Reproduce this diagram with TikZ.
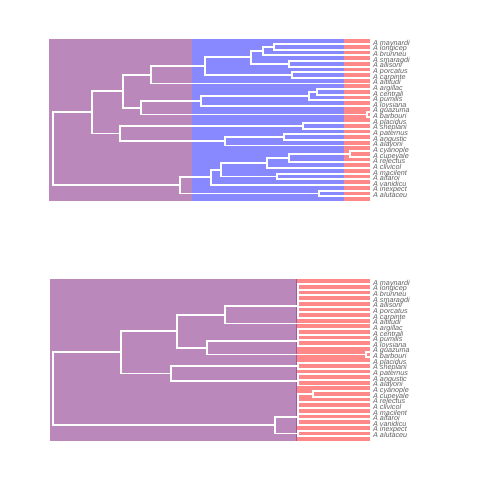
\documentclass[tikz,border=0pt]{standalone}
\usepackage{fontspec}
\setmainfont{Liberation Sans}
\usetikzlibrary{calc}
\definecolor{eraold}{RGB}{187,136,187}
\definecolor{eramid}{RGB}{136,136,255}
\definecolor{erayoung}{RGB}{255,136,136}
\definecolor{eraedge}{RGB}{158,92,158}
\definecolor{labgray}{RGB}{96,96,96}
\tikzset{
  branch/.style={draw=white, line width=1.9pt},
  tiplab/.style={anchor=base west, inner sep=0pt, text=labgray, font=\fontsize{7.2}{8}\selectfont\itshape},
}
% tips and labels of one panel: prefix, vertical offset
\newcommand{\tiprow}[2]{
  \foreach \nm [count=\i] in {maynardi,longicep,brunneu,smaragdi,allisoni,porcatus,carpinte,altitudi,argillac,centrali,pumilis,loysiana,guazuma,barbouri,placidus,sheplani,paternus,angustic,alayoni,cyanople,cupeyale,rejectus,clivicol,macilent,alfaroi,vanidicu,inexpect,alutaceu} {
    \coordinate (#1\i) at (370,{44+5.64*(\i-1)+#2});
    \node[tiplab] (#1lab\i) at (373,{45.3+5.64*(\i-1)+#2}) {A \nm};
  }
}
% internal node: name, depth, upper child, lower child
\newcommand{\clade}[4]{
  \coordinate (#1-m) at ($(#3)!0.5!(#4)$);
  \coordinate (#1-x) at (#2,0);
  \coordinate (#1) at (#1-x |- #1-m);
  \draw[branch] (#3) -| (#1) |- (#4);
}

\begin{document}
\begin{tikzpicture}[x=1pt,y=-1pt]
  \useasboundingbox (0,0) rectangle (480,480);

  % Top panel: three eras.
  \fill[eraold] (49,39) rectangle (192.3,200.7);
  \fill[eramid] (192.3,39) rectangle (344.3,200.7);
  \fill[erayoung] (344.3,39) rectangle (370,200.7);
  \tiprow{t}{0}

  \clade{tC111}{274.3}{t1}{t2}
  \clade{tC11}{262.7}{tC111}{t3}
  \clade{tC12}{289.3}{t4}{t5}
  \clade{tC1}{250.7}{tC11}{tC12}
  \clade{tC2}{291.7}{t6}{t7}
  \clade{tC}{205}{tC1}{tC2}
  \clade{tA11}{151}{tC}{t8}
  \clade{tD11}{317.3}{t9}{t10}
  \clade{tD1}{309}{tD11}{t11}
  \clade{tD}{200.7}{tD1}{t12}
  \clade{tE}{367}{t13}{t14}
  \clade{tA12}{140.7}{tD}{tE}
  \clade{tA1}{123.3}{tA11}{tA12}
  \clade{tF}{302.7}{t15}{t16}
  \clade{tG1}{284}{t17}{t18}
  \clade{tG}{225}{tG1}{t19}
  \clade{tA2}{120}{tF}{tG}
  \clade{tA}{91.7}{tA1}{tA2}
  \clade{tH111}{350}{t20}{t21}
  \clade{tH11}{289.3}{tH111}{t22}
  \clade{tH1}{267.3}{tH11}{t23}
  \clade{tH2}{277.3}{t24}{t25}
  \clade{tH}{220.7}{tH1}{tH2}
  \clade{tB1}{210.7}{tH}{t26}
  \clade{tB2}{319}{t27}{t28}
  \clade{tB}{180}{tB1}{tB2}
  \clade{tR}{53.3}{tA}{tB}

  % Bottom panel: two eras, young clades collapsed at the boundary.
  \fill[eraold] (50,279) rectangle (297,440.7);
  \fill[erayoung] (297,279) rectangle (370,440.7);
  \draw[eraedge, line width=1pt] (296.6,279) -- (296.6,440.7);
  \tiprow{b}{240}

  \clade{bC111}{297.8}{b1}{b2}
  \clade{bC11}{297.8}{bC111}{b3}
  \clade{bC12}{297.8}{b4}{b5}
  \clade{bC1}{297.8}{bC11}{bC12}
  \clade{bC2}{297.8}{b6}{b7}
  \clade{bC}{297.8}{bC1}{bC2}
  \clade{bA11}{225}{bC}{b8}
  \clade{bD11}{297.8}{b9}{b10}
  \clade{bD1}{297.8}{bD11}{b11}
  \clade{bD}{297.8}{bD1}{b12}
  \clade{bE}{366}{b13}{b14}
  \clade{bA12}{207.3}{bD}{bE}
  \clade{bA1}{177.3}{bA11}{bA12}
  \clade{bF}{297.8}{b15}{b16}
  \clade{bG1}{297.8}{b17}{b18}
  \clade{bG}{297.8}{bG1}{b19}
  \clade{bA2}{171}{bF}{bG}
  \clade{bA}{121}{bA1}{bA2}
  \clade{bH111}{313.3}{b20}{b21}
  \clade{bH11}{297.8}{bH111}{b22}
  \clade{bH1}{297.8}{bH11}{b23}
  \clade{bH2}{297.8}{b24}{b25}
  \clade{bH}{297.8}{bH1}{bH2}
  \clade{bB1}{297.8}{bH}{b26}
  \clade{bB2}{297.8}{b27}{b28}
  \clade{bB}{275}{bB1}{bB2}
  \clade{bR}{53.3}{bA}{bB}

\end{tikzpicture}
\end{document}
